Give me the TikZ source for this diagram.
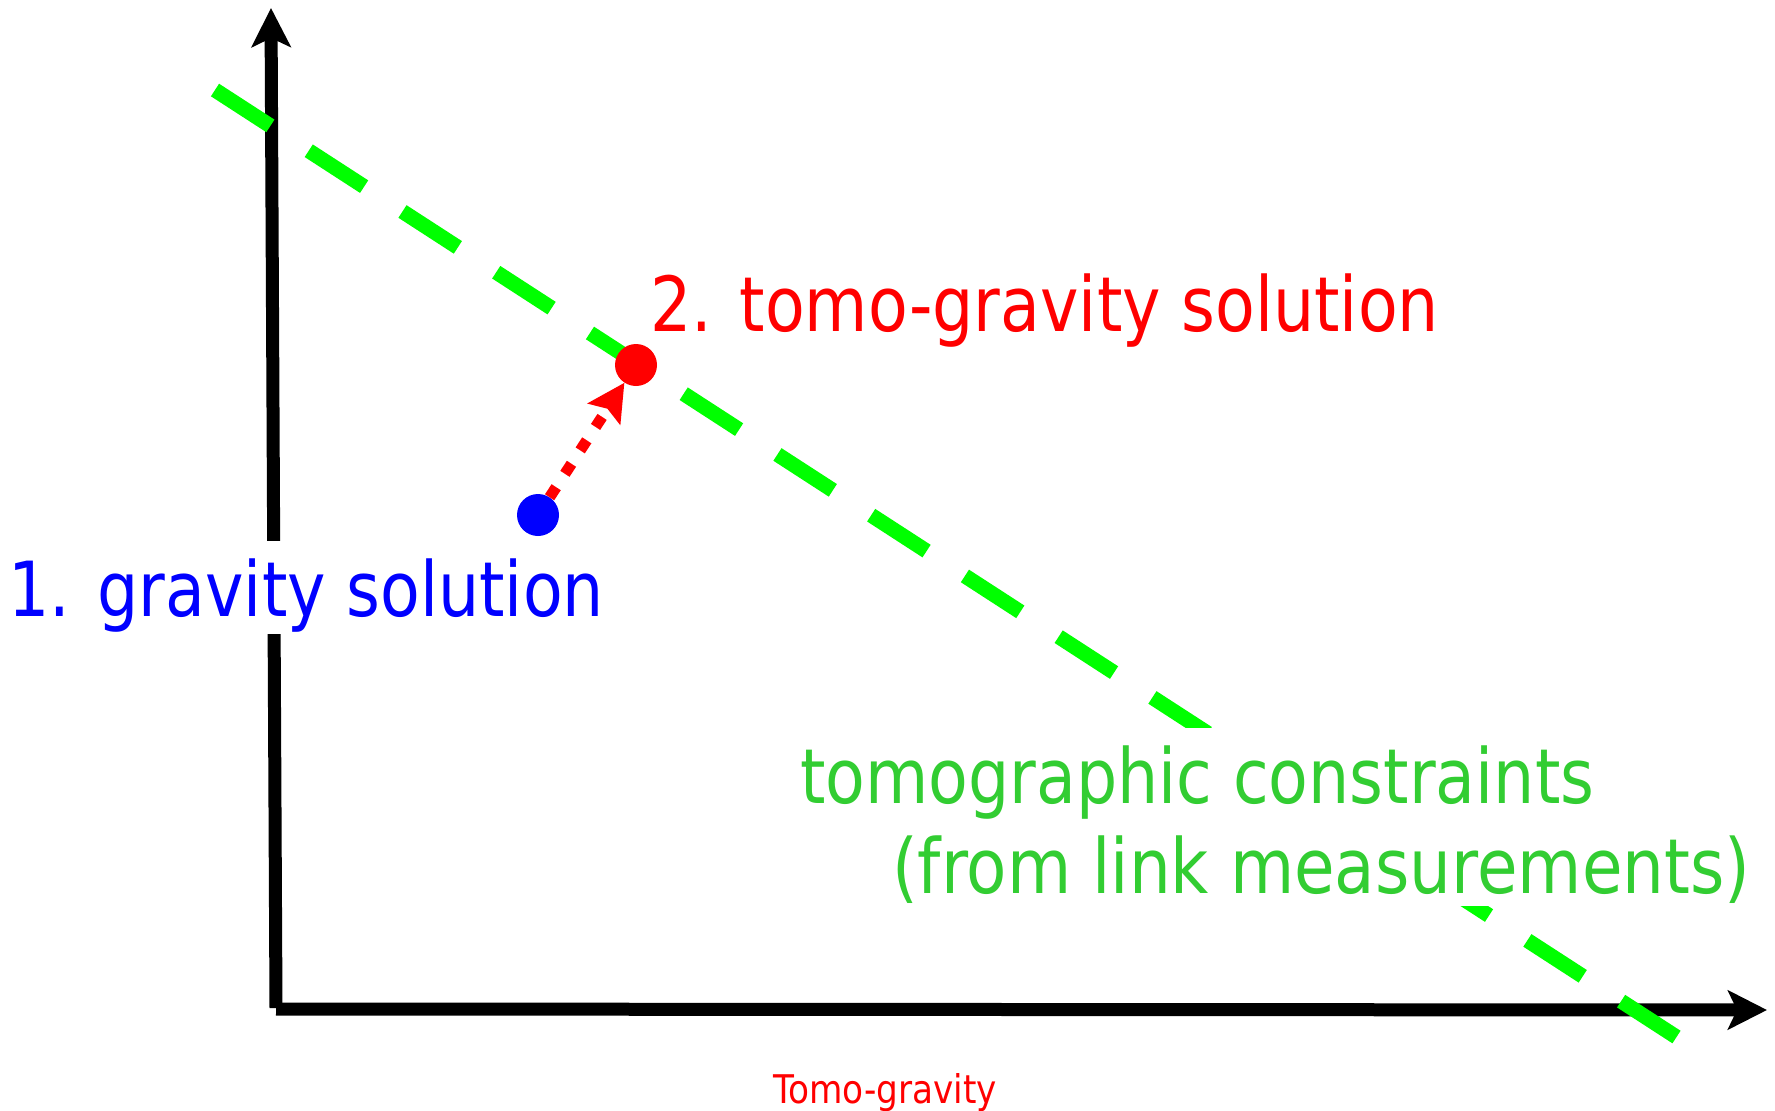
\documentclass[tikz,border=0pt]{standalone}
\usepackage{fontspec}
\newfontfamily\lblfont[FakeStretch=0.855]{DejaVu Sans}
\newfontfamily\lblwidefont[FakeStretch=0.868]{DejaVu Sans}
\usetikzlibrary{arrows.meta}
\definecolor{lblgreen}{HTML}{32CD32}
\definecolor{linegreen}{HTML}{00FF00}
\begin{document}
\begin{tikzpicture}[x=1pt,y=-1pt,
  axisline/.style={line width=13pt, black, -{Stealth[length=39pt,width=39pt,inset=9pt]}},
  constraint/.style={line width=15pt, linegreen, dash pattern=on 66pt off 45.7pt},
  bigtext/.style={inner sep=0pt, anchor=base west, font=\lblfont\fontsize{76pt}{76pt}\selectfont},
  smalltext/.style={inner sep=0pt, anchor=base west, font=\lblwidefont\fontsize{39.5pt}{39.5pt}\selectfont},
  dot/.style={circle, inner sep=0pt, minimum size=42pt, fill=#1},
  moveline/.style={red, line width=11pt, dash pattern=on 12pt off 16pt,
    -{Stealth[length=37pt,width=38pt,inset=6pt]}}
]
\useasboundingbox (0,0) rectangle (1775,1111);
% axes
\coordinate (origin) at (276,1008);
\coordinate (ytip) at (271,8);
\coordinate (xstart) at (276,1009);
\coordinate (xtip) at (1767,1010);
\draw[axisline] (origin) -- (ytip);
\draw[axisline] (xstart) -- (xtip);
% tomographic constraint line
\coordinate (cstart) at (215,90);
\coordinate (cend) at (1678,1038);
\draw[constraint] (cstart) -- (cend);
% labels
\node[bigtext, red] (tglabel) at (650,331) {2. tomo-gravity solution};
\node[bigtext, blue, fill=white, text height=75pt, text depth=18pt] (glabel) at (8,616) {1. gravity solution};
\node[bigtext, lblgreen, fill=white, text height=75pt, text depth=25pt] (tcline1) at (800,803) {tomographic constraints};
\node[bigtext, lblgreen, fill=white, text height=65pt, text depth=13pt, font=\lblwidefont\fontsize{76pt}{76pt}\selectfont] (tcline2) at (892,893) {(from link measurements)};
\node[smalltext, red] (caption) at (773,1103) {Tomo-gravity};
% solutions
\node[dot=blue] (gravity) at (538,515) {};
\node[dot=red] (tomograv) at (636,365) {};
\draw[moveline] (gravity) -- (tomograv);
\end{tikzpicture}
\end{document}
